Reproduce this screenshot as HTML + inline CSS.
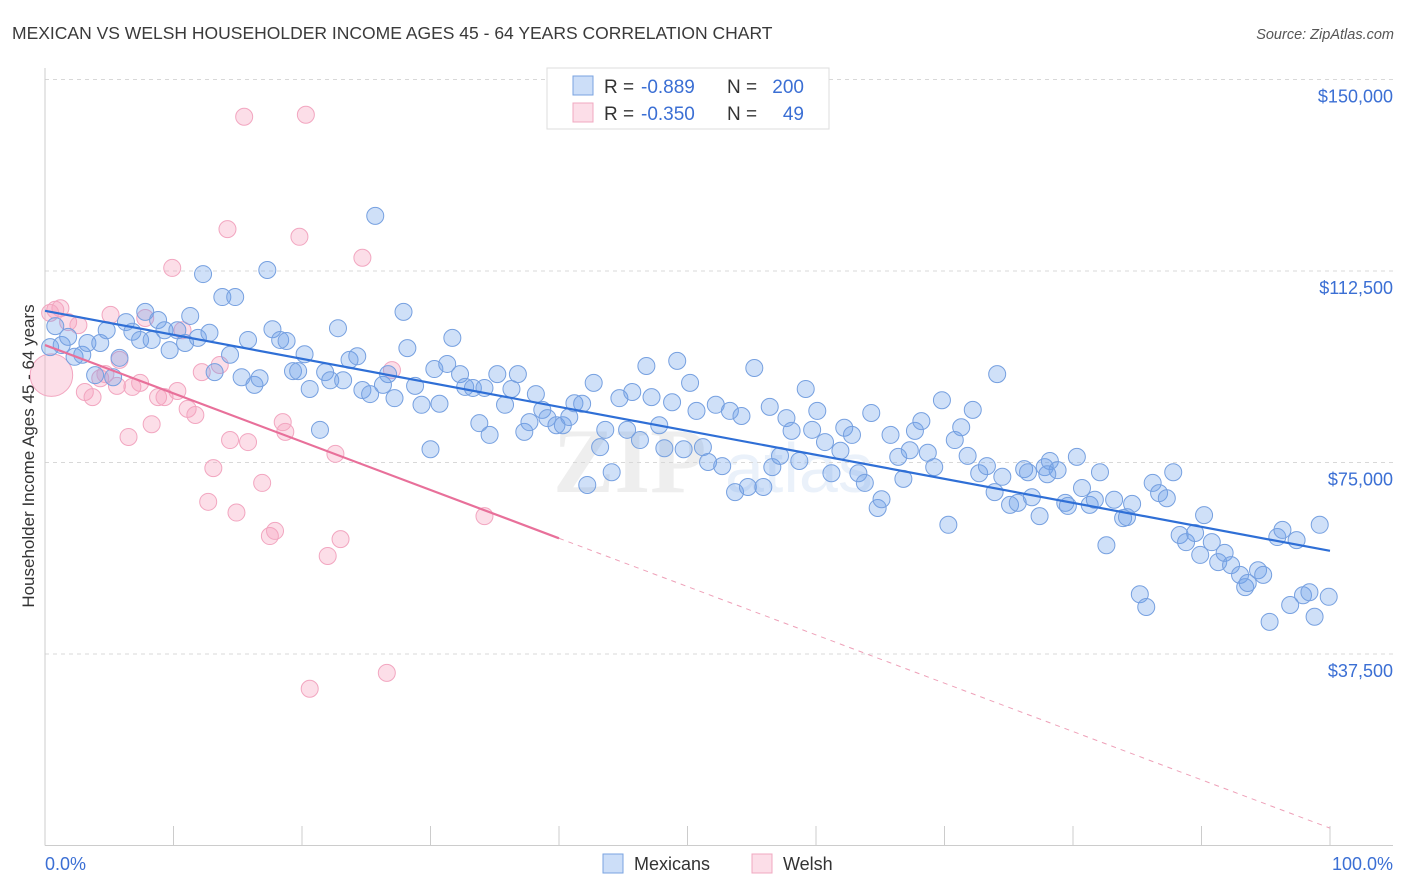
<!DOCTYPE html>
<html><head><meta charset="utf-8"><style>
body{margin:0;background:#fff;font-family:"Liberation Sans",sans-serif;}
svg{display:block}
</style></head><body>
<svg id="chart" width="1406" height="892" viewBox="0 0 1406 892" xmlns="http://www.w3.org/2000/svg" font-family="Liberation Sans, sans-serif">
<text x="12" y="39" font-size="17.5" fill="#3a3a3a">MEXICAN VS WELSH HOUSEHOLDER INCOME AGES 45 - 64 YEARS CORRELATION CHART</text>
<text x="1394" y="39" font-size="14.5" fill="#555" font-style="italic" text-anchor="end">Source: ZipAtlas.com</text>
<g opacity="0.12">
<text x="553" y="492" font-size="92" font-weight="bold" fill="#777" font-family="Liberation Serif, serif">ZIP</text>
<text x="725" y="492" font-size="70" fill="#5a8fd8">atlas</text>
</g>
<g id="grid"></g>
<g id="axes"></g>
<g id="pinkPts"></g>
<g id="bluePts"></g>
<g id="trends"></g>
<text transform="translate(34,456) rotate(-90)" font-size="17" fill="#333" text-anchor="middle">Householder Income Ages 45 - 64 years</text>
<text x="45" y="870" font-size="18" fill="#3b6fd4">0.0%</text>
<text x="1393" y="870" font-size="18" fill="#3b6fd4" text-anchor="end">100.0%</text>
<g>
<rect x="547" y="68" width="282" height="61" fill="#fff" stroke="#ddd"/>
<rect x="573" y="76" width="20" height="19" fill="rgba(110,160,235,0.35)" stroke="#7aa3e0"/>
<rect x="573" y="103" width="20" height="19" fill="rgba(245,160,190,0.35)" stroke="#f0a8c0"/>
<text x="604" y="93" font-size="19" fill="#333">R =</text>
<text x="641" y="93" font-size="19" fill="#3b6fd4">-0.889</text>
<text x="727" y="93" font-size="19" fill="#333">N =</text>
<text x="804" y="93" font-size="19" fill="#3b6fd4" text-anchor="end">200</text>
<text x="604" y="120" font-size="19" fill="#333">R =</text>
<text x="641" y="120" font-size="19" fill="#3b6fd4">-0.350</text>
<text x="727" y="120" font-size="19" fill="#333">N =</text>
<text x="804" y="120" font-size="19" fill="#3b6fd4" text-anchor="end">49</text>
</g>
<g>
<rect x="603" y="854" width="20" height="19" fill="rgba(110,160,235,0.35)" stroke="#7aa3e0"/>
<text x="634" y="870" font-size="18" fill="#333">Mexicans</text>
<rect x="752" y="854" width="20" height="19" fill="rgba(245,160,190,0.35)" stroke="#f0a8c0"/>
<text x="783" y="870" font-size="18" fill="#333">Welsh</text>
</g>
</svg>
<script>
const yTicks=[37500,75000,112500,150000];
const yTickLabels=["$37,500","$75,000","$112,500","$150,000"];
const xTicks=[0,10,20,30,40,50,60,70,80,90,100];
const bluePct=[0.8,0.4,1.3,1.8,2.3,2.9,3.3,3.9,4.3,4.8,5.3,5.8,6.3,6.8,7.4,7.8,8.3,8.8,9.3,9.7,10.3,10.9,11.3,11.9,12.3,12.8,13.2,13.8,14.4,14.8,15.3,15.8,16.3,16.7,17.3,17.7,18.3,18.8,19.3,19.7,20.2,20.6,21.4,21.8,22.2,22.8,23.2,23.7,24.3,24.7,25.3,25.7,26.3,26.7,27.2,27.9,28.2,28.8,29.3,30.0,30.3,30.7,31.3,31.7,32.3,32.7,33.3,33.8,34.2,34.6,35.2,35.8,36.3,36.8,37.3,37.7,38.2,38.7,39.1,39.8,40.3,40.8,41.2,41.8,42.2,42.7,43.2,43.6,44.1,44.7,45.3,45.7,46.3,46.8,47.2,47.8,48.2,48.8,49.2,49.7,50.2,50.7,51.2,51.6,52.2,52.7,53.3,53.7,54.2,54.7,55.2,55.9,56.4,56.6,57.2,57.7,58.1,58.7,59.2,59.7,60.1,60.7,61.2,61.9,62.2,62.8,63.3,63.8,64.3,64.8,65.1,65.8,66.4,66.8,67.3,67.7,68.2,68.7,69.2,69.8,70.3,70.8,71.3,71.8,72.2,72.7,73.3,73.9,74.5,75.1,75.7,76.2,76.8,77.4,77.8,78.2,78.8,79.4,79.6,80.3,80.7,81.3,81.7,82.1,82.6,83.2,83.9,84.2,84.6,85.2,85.7,86.2,86.7,87.3,87.8,88.3,88.8,89.5,89.9,90.2,90.8,91.3,91.8,92.3,93.0,93.4,93.6,94.4,94.8,95.3,95.9,96.3,96.9,97.4,97.9,98.4,98.8,99.2,99.9,74.1,76.5,78.0];
const blueIncome=[101.7,97.6,98.0,99.6,95.7,96.1,98.4,92.1,98.4,100.9,91.7,95.5,102.5,100.6,99.0,104.5,99.0,102.9,100.9,97.0,100.9,98.4,103.7,99.4,111.9,100.4,92.7,107.4,96.1,107.4,91.7,99.0,90.2,91.5,112.7,101.1,99.0,98.8,92.9,92.9,96.2,89.4,81.4,92.7,91.1,101.3,91.1,95.1,95.8,89.2,88.4,123.3,90.2,92.3,87.6,104.5,97.4,90.0,86.3,77.6,93.3,86.5,94.3,99.4,92.3,89.8,89.6,82.7,89.6,80.4,92.3,86.3,89.4,92.3,81.0,82.9,88.4,85.3,83.7,82.3,82.3,83.9,86.6,86.5,70.6,90.6,78.0,81.4,73.1,87.6,81.4,88.8,79.4,93.9,87.8,82.3,77.8,86.8,94.9,77.6,90.6,85.1,78.0,75.1,86.3,74.3,85.1,69.2,84.1,70.2,93.5,70.2,85.9,74.1,76.3,83.7,81.2,75.3,89.4,81.4,85.1,79.0,72.9,77.3,81.8,80.4,72.9,71.0,84.7,66.1,67.8,80.4,76.1,71.8,77.4,81.2,83.1,76.9,74.1,87.2,62.8,79.4,81.9,76.3,85.3,72.9,74.3,69.2,72.2,66.7,67.1,73.7,68.2,64.5,74.1,75.3,73.5,67.1,66.5,76.1,70.0,66.7,67.7,73.1,58.8,67.7,64.1,64.3,66.9,49.2,46.7,71.0,69.0,68.0,73.1,60.8,59.4,61.2,56.9,64.7,59.4,55.5,57.3,54.9,53.0,50.6,51.4,53.9,53.0,43.8,60.4,61.8,47.1,59.8,49.0,49.6,44.8,62.8,48.7,92.3,73.1,72.7];
const pinkPct=[0.5,0.8,1.2,1.8,2.6,3.1,3.7,4.3,4.7,5.1,5.6,5.8,6.5,6.8,7.4,7.8,8.3,8.8,9.3,9.9,10.3,10.7,11.1,11.7,12.2,12.7,13.1,13.6,14.2,14.4,14.9,15.5,15.8,16.9,17.5,17.9,18.5,18.7,19.8,20.3,20.6,22.6,22.0,23.0,24.7,26.6,27.0,34.2,0.4];
const pinkIncome=[92.1,104.9,105.2,102.5,101.9,88.8,87.8,91.5,92.3,103.9,90.0,95.1,80.0,89.8,90.6,103.3,82.5,87.8,87.8,113.1,89.0,100.9,85.5,84.3,92.7,67.3,73.9,94.1,120.7,79.4,65.2,142.7,79.0,71.0,60.6,61.6,82.9,81.0,119.2,143.1,30.7,76.7,56.7,60.0,115.1,33.8,93.1,64.5,104.3];
const pinkWeight=[2.5,1,1,1,1,1,1,1,1,1,1,1,1,1,1,1,1,1,1,1,1,1,1,1,1,1,1,1,1,1,1,1,1,1,1,1,1,1,1,1,1,1,1,1,1,1,1,1,1];
const blueTrend=[104.7,57.7];
const pinkTrend=[98.0,3.4];
const pinkSolidEnd=40;

const NS="http://www.w3.org/2000/svg";
const X0=45,X1=1330,YBOT=845.5,PXPER=191.5/37.5;
function xs(p){return X0+(X1-X0)*p/100;}
function ys(k){return YBOT-k*PXPER;}
function mk(tag,attrs,parent){const e=document.createElementNS(NS,tag);for(const k in attrs)e.setAttribute(k,attrs[k]);parent.appendChild(e);return e;}
const grid=document.getElementById('grid'),axes=document.getElementById('axes');
yTicks.forEach((v,i)=>{
  const y=ys(v/1000);
  const l=mk('line',{x1:X0,x2:1393,y1:y,y2:y,stroke:'#d8d8d8','stroke-dasharray':'4,4'},grid);
  
  
  const t=mk('text',{x:1393,y:y+23,'font-size':18,fill:'#3b6fd4','text-anchor':'end'},grid);
  t.textContent=yTickLabels[i];
  
  
});
const ax=mk('line',{x1:X0,x2:X0,y1:68,y2:YBOT,stroke:'#ccc'},axes);


const bx=mk('line',{x1:X0,x2:1393,y1:YBOT,y2:YBOT,stroke:'#ccc'},axes);


xTicks.forEach(p=>{
  const t=mk('line',{x1:xs(p),x2:xs(p),y1:826,y2:YBOT,stroke:'#ccc'},axes);
  
  
});
const bp=document.getElementById('bluePts'),pp=document.getElementById('pinkPts');
pinkPct.forEach((p,i)=>{
  const c=mk('circle',{cx:xs(p),cy:ys(pinkIncome[i]),r:8.5*pinkWeight[i],fill:'rgba(245,160,190,0.35)',stroke:'#f2a6c0','stroke-width':1},pp);
  
  
});
bluePct.forEach((p,i)=>{
  const c=mk('circle',{cx:xs(p),cy:ys(blueIncome[i]),r:8.5,fill:'rgba(110,160,235,0.33)',stroke:'#76a0e0','stroke-width':1},bp);
  
  
});
const tr=document.getElementById('trends');
const bl=mk('line',{x1:xs(0),y1:ys(blueTrend[0]),x2:xs(100),y2:ys(blueTrend[1]),stroke:'#2f6fd6','stroke-width':2.2},tr);


const pv=p=>pinkTrend[0]+(pinkTrend[1]-pinkTrend[0])*p/100;
const pl=mk('line',{x1:xs(0),y1:ys(pv(0)),x2:xs(pinkSolidEnd),y2:ys(pv(pinkSolidEnd)),stroke:'#e8709a','stroke-width':2.2},tr);


const pd=mk('line',{x1:xs(pinkSolidEnd),y1:ys(pv(pinkSolidEnd)),x2:xs(100),y2:ys(pv(100)),stroke:'#eea0b8','stroke-width':1,'stroke-dasharray':'5,5'},tr);


</script>
</body></html>
